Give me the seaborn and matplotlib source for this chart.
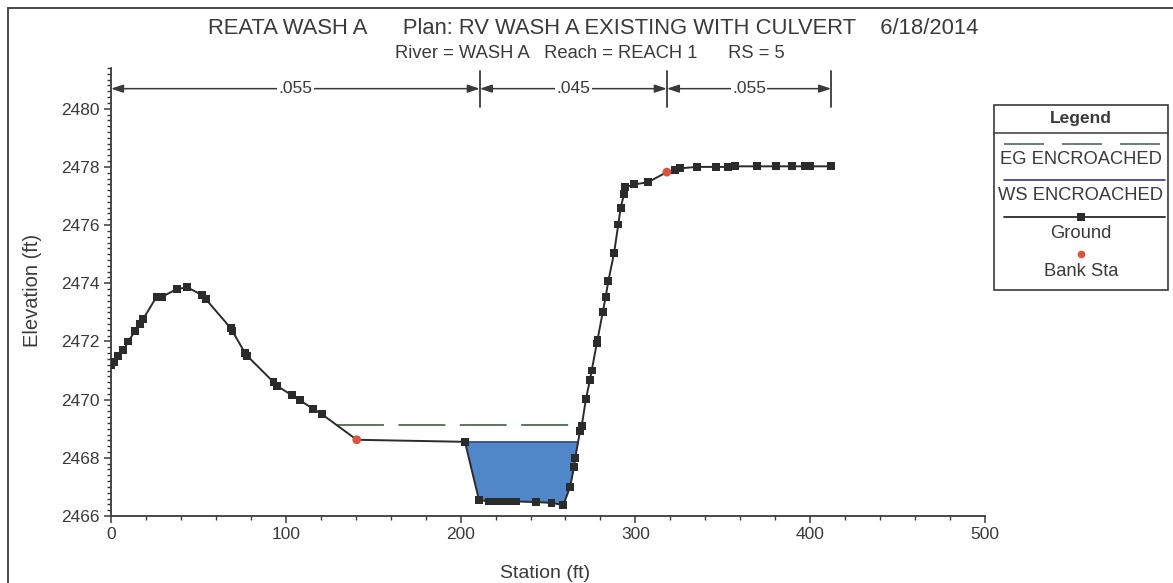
import numpy as np
import pandas as pd
import matplotlib
matplotlib.use("Agg")
import matplotlib.pyplot as plt
from matplotlib.lines import Line2D
from matplotlib.patches import Rectangle
from matplotlib.ticker import MultipleLocator
import seaborn as sns

# ---- cross-section data -------------------------------------------------
station = [0, 1.5, 4, 7, 9.9, 13.7, 16.6, 18.5, 26, 29,
           37.6, 43.7, 51.9, 54.3, 68.6, 69.5, 76.7, 78, 93, 94.8,
           103.5, 108, 115.7, 120.6, 140.6, 202.5, 210.5, 216, 219, 222,
           225, 228, 232, 243, 252, 258.8, 262.6, 264.9, 265.6, 268.3,
           269.3, 271.7, 274, 275, 277.9, 278.3, 281.3, 283, 284.5, 287.8,
           290.2, 291.6, 293.5, 294, 299.4, 307, 318, 322.7, 325.5, 335,
           346, 353, 357, 369.4, 380.4, 389.8, 397, 400, 412]
elevation = [2471.2, 2471.3, 2471.5, 2471.7, 2472.0, 2472.35, 2472.6, 2472.78, 2473.53, 2473.53,
             2473.8, 2473.86, 2473.6, 2473.45, 2472.45, 2472.35, 2471.6, 2471.5, 2470.6, 2470.48,
             2470.15, 2469.98, 2469.68, 2469.5, 2468.62, 2468.55, 2466.55, 2466.5, 2466.5, 2466.5,
             2466.5, 2466.5, 2466.5, 2466.48, 2466.45, 2466.38, 2467.0, 2467.68, 2468.0, 2468.92,
             2469.1, 2470.02, 2470.68, 2471.0, 2471.93, 2472.05, 2473.0, 2473.53, 2474.07, 2475.04,
             2476.02, 2476.6, 2477.07, 2477.3, 2477.4, 2477.47, 2477.82, 2477.9, 2477.95, 2478.0,
             2478.0, 2478.0, 2478.02, 2478.02, 2478.02, 2478.02, 2478.02, 2478.02, 2478.02]
bank_stations = [140.6, 318]
ws_encroached = 2468.55
eg_encroached = 2469.12
n_breaks = [0, 211, 318, 412]
n_values = [".055", ".045", ".055"]

title = "REATA WASH A      Plan: RV WASH A EXISTING WITH CULVERT    6/18/2014"
subtitle = "River = WASH A   Reach = REACH 1      RS = 5"

ground = pd.DataFrame({"Station": station, "Elevation": elevation})
ground_pts = ground[~ground["Station"].isin(bank_stations)]
banks = pd.DataFrame({"Station": bank_stations,
                      "Elevation": np.interp(bank_stations, station, elevation)})


def wetted_limits(x, z, level):
    """Left/right stations where a level meets the ground around the thalweg."""
    x = np.asarray(x, float)
    z = np.asarray(z, float)
    i0 = int(np.argmin(z))
    i = i0
    while i > 0 and z[i - 1] <= level:
        i -= 1
    xl = x[i] if i == 0 else np.interp(level, [z[i], z[i - 1]], [x[i], x[i - 1]])
    j = i0
    while j < len(x) - 1 and z[j + 1] <= level:
        j += 1
    xr = x[j] if j == len(x) - 1 else np.interp(level, [z[j], z[j + 1]], [x[j], x[j + 1]])
    return xl, xr, i, j


# ---- styling -------------------------------------------------------------
sns.set_theme(style="ticks")
plt.rcParams["font.family"] = ["Liberation Sans", "DejaVu Sans"]
INK = "#3a3a3a"
GROUND_C = "#2b2b2b"
BANK_C = "#d9533f"
WATER_C = "#4f87c9"
WS_C = "#2c3a8f"
EG_C = "#4f6b55"

W, H = 1173, 583
fig = plt.figure(figsize=(W / 100, H / 100), dpi=100)
fig.patch.set_facecolor("white")
ax = fig.add_axes([111 / W, 1 - 516 / H, (985 - 111) / W, (516 - 68) / H])

# water surface fill and line
xl, xr, i, j = wetted_limits(station, elevation, ws_encroached)
xs = [xl] + station[i:j + 1] + [xr]
zs = [ws_encroached] + elevation[i:j + 1] + [ws_encroached]
ax.fill_between(xs, zs, ws_encroached, color=WATER_C, lw=0, zorder=1)
ax.plot([xl, xr], [ws_encroached, ws_encroached], color=WS_C, lw=1.2, zorder=2)

# energy grade line
el, er, _, _ = wetted_limits(station, elevation, eg_encroached)
ax.plot([el, er], [eg_encroached, eg_encroached], color=EG_C, lw=1.3,
        linestyle=(0, (26, 8)), zorder=2)

# ground profile, survey points and bank stations
sns.lineplot(data=ground, x="Station", y="Elevation", ax=ax, sort=False,
             estimator=None, color=GROUND_C, lw=1.4, zorder=3)
sns.scatterplot(data=ground_pts, x="Station", y="Elevation", ax=ax,
                color=GROUND_C, marker="s", s=32, edgecolor="none", zorder=3.5)
sns.scatterplot(data=banks, x="Station", y="Elevation", ax=ax, color=BANK_C,
                s=40, edgecolor="none", zorder=4)

# axes
ax.set_xlim(0, 500)
ax.set_ylim(2466, 2481.4)
ax.set_xticks(np.arange(0, 501, 100))
ax.set_yticks(np.arange(2466, 2481, 2))
ax.xaxis.set_minor_locator(MultipleLocator(20))
ax.yaxis.set_minor_locator(MultipleLocator(0.2))
ax.tick_params(which="major", direction="out", length=5, width=1.1, color=INK,
               labelsize=12.5, labelcolor=INK, pad=3)
ax.tick_params(which="minor", direction="out", length=3, width=1.0, color=INK)
for side in ("top", "right"):
    ax.spines[side].set_visible(False)
for side in ("left", "bottom"):
    ax.spines[side].set_color(INK)
    ax.spines[side].set_linewidth(1.3)
ax.set_xlabel("")
ax.set_ylabel("")
ax.set_facecolor("white")

# Manning's n segments above the section
y_arrow = 2480.69
for xb in n_breaks[1:]:
    ax.plot([xb, xb], [2480.05, 2481.3], color=INK, lw=1.3, clip_on=False, zorder=5)
for a, b, lab in zip(n_breaks[:-1], n_breaks[1:], n_values):
    mid = (a + b) / 2
    for end in (a, b):
        ax.annotate("", xy=(end, y_arrow), xytext=(mid, y_arrow),
                    arrowprops=dict(arrowstyle="-|>,head_length=0.6,head_width=0.2",
                                    color=INK, lw=1.1, shrinkA=0, shrinkB=0),
                    annotation_clip=False)
    ax.text(mid, y_arrow, lab, ha="center", va="center", fontsize=12.5, color=INK,
            bbox=dict(facecolor="white", edgecolor="none", pad=1.0), zorder=6,
            clip_on=False)

# titles and axis labels
fig.text(593 / W, 1 - 29 / H, title, ha="center", va="center", fontsize=15.8,
         color=INK)
fig.text(590 / W, 1 - 53 / H, subtitle, ha="center", va="center", fontsize=13.2,
         color=INK)
fig.text(32 / W, 1 - 290 / H, "Elevation (ft)", rotation=90, ha="center",
         va="center", fontsize=14.5, color=INK)
fig.text(545 / W, 1 - 573 / H, "Station (ft)", ha="center", va="center",
         fontsize=14, color=INK)

# outer frame (top and left edges)
fig.add_artist(Line2D([8 / W, 1], [1 - 8 / H, 1 - 8 / H], color=INK, lw=1.3))
fig.add_artist(Line2D([8 / W, 8 / W], [0, 1 - 8 / H], color=INK, lw=1.3))

# legend panel
lx0, lx1 = 994 / W, 1168 / W
ly0, ly1 = 1 - 290 / H, 1 - 105 / H
fig.add_artist(Rectangle((lx0, ly0), lx1 - lx0, ly1 - ly0, transform=fig.transFigure,
                         facecolor="white", edgecolor=INK, lw=1.2))
fig.add_artist(Line2D([lx0, lx1], [1 - 133 / H] * 2, color=INK, lw=1.1))
cx = (lx0 + lx1) / 2
sx0, sx1 = 1004 / W, 1165 / W
fig.text(cx, 1 - 118 / H, "Legend", ha="center", va="center", fontsize=12.5,
         fontweight="bold", color=INK)
fig.add_artist(Line2D([sx0, sx1], [1 - 144 / H] * 2, color=EG_C, lw=1.2,
                      linestyle=(0, (24, 10.8))))
fig.text(cx, 1 - 160 / H, "EG ENCROACHED", ha="center", va="center",
         fontsize=13.2, color=INK)
fig.add_artist(Line2D([sx0, sx1], [1 - 180 / H] * 2, color=WS_C, lw=1.2))
fig.text(cx, 1 - 196 / H, "WS ENCROACHED", ha="center", va="center",
         fontsize=13.2, color=INK)
fig.add_artist(Line2D([sx0, sx1], [1 - 216.5 / H] * 2, color=GROUND_C, lw=1.3))
fig.add_artist(Line2D([cx], [1 - 216.5 / H], color=GROUND_C, marker="s",
                      markersize=5.5, markeredgewidth=0, linestyle="none"))
fig.text(cx, 1 - 234 / H, "Ground", ha="center", va="center", fontsize=13.2, color=INK)
fig.add_artist(Line2D([cx], [1 - 254 / H], color=BANK_C, marker="o",
                      markersize=5.5, markeredgewidth=0, linestyle="none"))
fig.text(cx, 1 - 272 / H, "Bank Sta", ha="center", va="center", fontsize=13.2, color=INK)

fig.savefig("out.png", dpi=100, facecolor="white")
